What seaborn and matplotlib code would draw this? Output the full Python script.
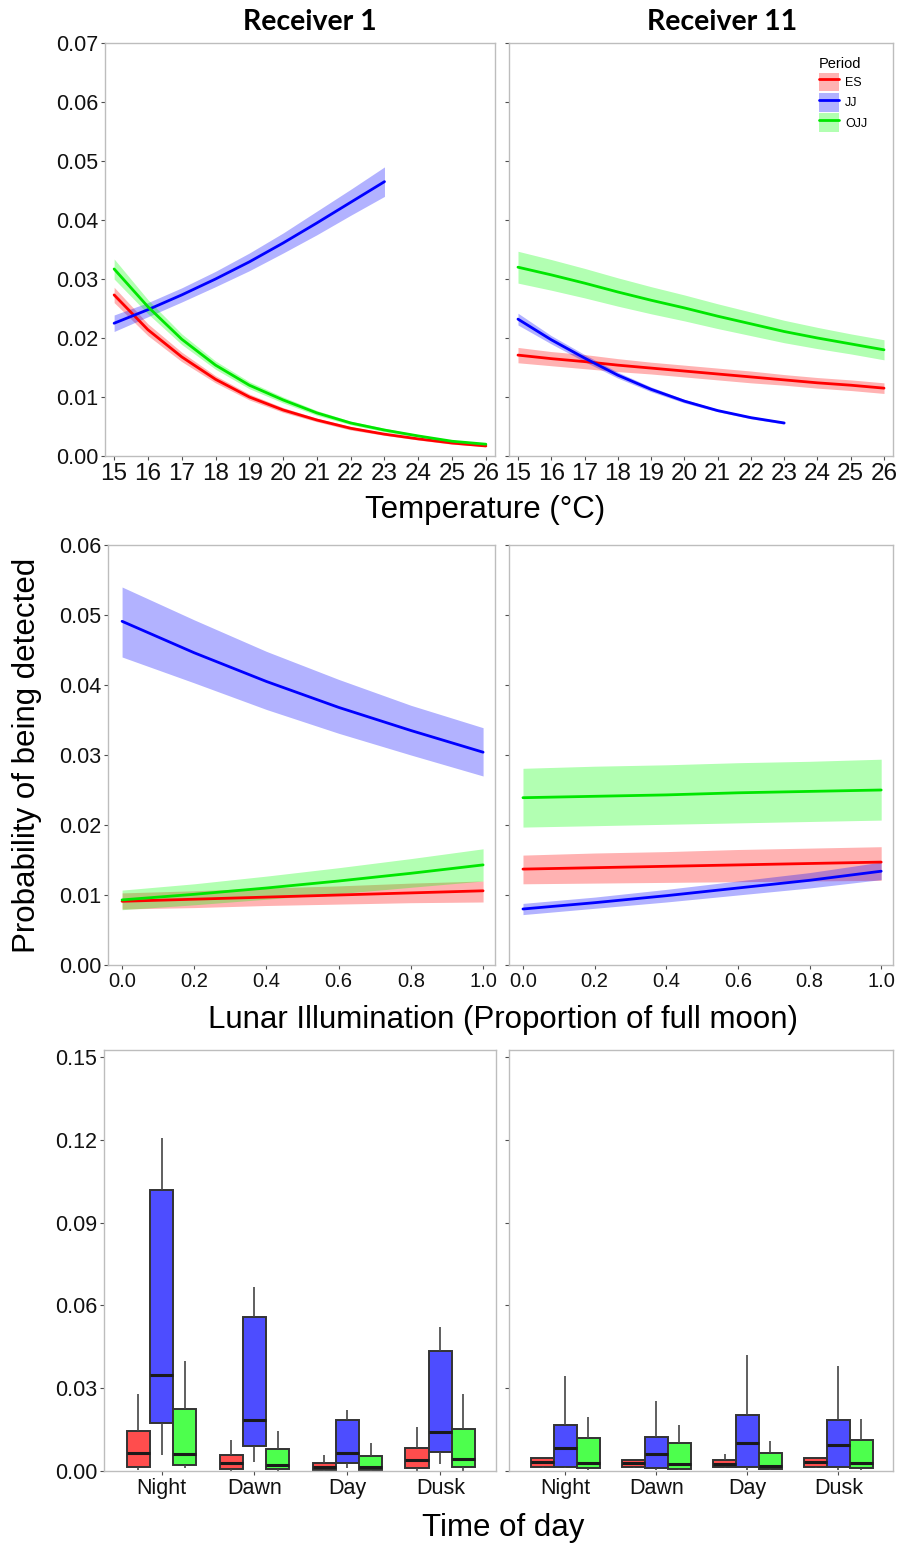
import pandas as pd
import seaborn as sns
import matplotlib.pyplot as plt
import numpy as np
from matplotlib.patches import Patch
from matplotlib.lines import Line2D

# Data
periods = ['ES', 'JJ', 'OJJ']
temp = [15, 16, 17, 18, 19, 20, 21, 22, 23, 24, 25, 26]
temp_jj = [15, 16, 17, 18, 19, 20, 21, 22, 23]
lunar = [0.0, 0.2, 0.4, 0.6, 0.8, 1.0]
tod = ['Night', 'Dawn', 'Day', 'Dusk']

# Receiver 1 - temperature
r1_temp_es = [0.0273, 0.0214, 0.0168, 0.0130, 0.0100, 0.0078, 0.0061, 0.0047, 0.0037, 0.0029, 0.0022, 0.0017]
r1_temp_es_lo = [0.0260, 0.0204, 0.0160, 0.0124, 0.0095, 0.0074, 0.0058, 0.0044, 0.0035, 0.0027, 0.0020, 0.0016]
r1_temp_es_hi = [0.0286, 0.0224, 0.0176, 0.0136, 0.0105, 0.0082, 0.0064, 0.0050, 0.0039, 0.0031, 0.0024, 0.0018]
r1_temp_jj = [0.0225, 0.0248, 0.0273, 0.0300, 0.0329, 0.0361, 0.0395, 0.0430, 0.0465]
r1_temp_jj_lo = [0.0211, 0.0236, 0.0261, 0.0287, 0.0314, 0.0344, 0.0375, 0.0408, 0.0440]
r1_temp_jj_hi = [0.0239, 0.0260, 0.0285, 0.0313, 0.0344, 0.0378, 0.0415, 0.0452, 0.0490]
r1_temp_ojj = [0.0317, 0.0253, 0.0198, 0.0154, 0.0120, 0.0095, 0.0073, 0.0056, 0.0044, 0.0034, 0.0025, 0.0020]
r1_temp_ojj_lo = [0.0300, 0.0241, 0.0189, 0.0147, 0.0114, 0.0090, 0.0069, 0.0053, 0.0041, 0.0032, 0.0023, 0.0018]
r1_temp_ojj_hi = [0.0334, 0.0265, 0.0207, 0.0161, 0.0126, 0.0100, 0.0077, 0.0059, 0.0047, 0.0036, 0.0027, 0.0022]

# Receiver 11 - temperature
r11_temp_es = [0.0171, 0.0165, 0.0160, 0.0154, 0.0149, 0.0144, 0.0139, 0.0134, 0.0129, 0.0124, 0.0120, 0.0115]
r11_temp_es_lo = [0.0158, 0.0153, 0.0148, 0.0143, 0.0139, 0.0134, 0.0129, 0.0124, 0.0120, 0.0115, 0.0111, 0.0106]
r11_temp_es_hi = [0.0184, 0.0177, 0.0172, 0.0165, 0.0159, 0.0154, 0.0149, 0.0144, 0.0138, 0.0133, 0.0129, 0.0124]
r11_temp_jj = [0.0232, 0.0197, 0.0166, 0.0137, 0.0113, 0.0093, 0.0077, 0.0065, 0.0056]
r11_temp_jj_lo = [0.0222, 0.0190, 0.0160, 0.0132, 0.0109, 0.0090, 0.0075, 0.0063, 0.0054]
r11_temp_jj_hi = [0.0242, 0.0204, 0.0172, 0.0142, 0.0117, 0.0096, 0.0079, 0.0067, 0.0058]
r11_temp_ojj = [0.0320, 0.0307, 0.0293, 0.0278, 0.0264, 0.0251, 0.0237, 0.0224, 0.0211, 0.0200, 0.0190, 0.0180]
r11_temp_ojj_lo = [0.0293, 0.0281, 0.0268, 0.0254, 0.0241, 0.0229, 0.0216, 0.0204, 0.0192, 0.0182, 0.0173, 0.0163]
r11_temp_ojj_hi = [0.0347, 0.0333, 0.0318, 0.0302, 0.0287, 0.0273, 0.0258, 0.0244, 0.0230, 0.0218, 0.0207, 0.0197]

# Receiver 1 - lunar illumination
r1_lun_es = [0.0091, 0.0094, 0.0097, 0.0100, 0.0103, 0.0106]
r1_lun_es_lo = [0.0080, 0.0082, 0.0085, 0.0087, 0.0089, 0.0090]
r1_lun_es_hi = [0.0103, 0.0106, 0.0110, 0.0113, 0.0117, 0.0120]
r1_lun_jj = [0.0491, 0.0446, 0.0405, 0.0368, 0.0335, 0.0304]
r1_lun_jj_lo = [0.0440, 0.0403, 0.0365, 0.0331, 0.0300, 0.0270]
r1_lun_jj_hi = [0.0540, 0.0493, 0.0448, 0.0408, 0.0371, 0.0339]
r1_lun_ojj = [0.0093, 0.0101, 0.0110, 0.0120, 0.0131, 0.0143]
r1_lun_ojj_lo = [0.0079, 0.0086, 0.0094, 0.0102, 0.0111, 0.0120]
r1_lun_ojj_hi = [0.0107, 0.0116, 0.0127, 0.0139, 0.0152, 0.0166]

# Receiver 11 - lunar illumination
r11_lun_es = [0.0137, 0.0139, 0.0141, 0.0143, 0.0145, 0.0147]
r11_lun_es_lo = [0.0116, 0.0117, 0.0118, 0.0119, 0.0120, 0.0121]
r11_lun_es_hi = [0.0157, 0.0160, 0.0162, 0.0165, 0.0167, 0.0169]
r11_lun_jj = [0.0080, 0.0089, 0.0099, 0.0110, 0.0121, 0.0134]
r11_lun_jj_lo = [0.0072, 0.0081, 0.0090, 0.0100, 0.0110, 0.0122]
r11_lun_jj_hi = [0.0088, 0.0097, 0.0108, 0.0120, 0.0132, 0.0147]
r11_lun_ojj = [0.0239, 0.0241, 0.0243, 0.0246, 0.0248, 0.0250]
r11_lun_ojj_lo = [0.0197, 0.0199, 0.0201, 0.0203, 0.0205, 0.0207]
r11_lun_ojj_hi = [0.0281, 0.0284, 0.0286, 0.0289, 0.0291, 0.0294]

# Boxplots: [lower whisker, Q1, median, Q3, upper whisker] per time of day
r1_box_es = [[0.0002, 0.0015, 0.0065, 0.0145, 0.0279], [0.0, 0.0007, 0.0029, 0.0058, 0.0112],
             [0.0, 0.0004, 0.0014, 0.0029, 0.0058], [0.0, 0.0011, 0.0040, 0.0083, 0.0160]]
r1_box_jj = [[0.0058, 0.0174, 0.0348, 0.1018, 0.1207], [0.0033, 0.0091, 0.0185, 0.0558, 0.0667],
             [0.0011, 0.0029, 0.0065, 0.0185, 0.0221], [0.0025, 0.0069, 0.0141, 0.0435, 0.0522]]
r1_box_ojj = [[0.0010, 0.0022, 0.0062, 0.0225, 0.0399], [0.0, 0.0007, 0.0022, 0.0080, 0.0145],
              [0.0, 0.0004, 0.0014, 0.0054, 0.0101], [0.0, 0.0014, 0.0043, 0.0152, 0.0279]]
r11_box_es = [[0.0012, 0.0014, 0.0033, 0.0047, 0.0047], [0.0012, 0.0014, 0.0029, 0.0040, 0.0040],
              [0.0010, 0.0014, 0.0025, 0.0040, 0.0062], [0.0012, 0.0014, 0.0033, 0.0047, 0.0047]]
r11_box_jj = [[0.0010, 0.0014, 0.0083, 0.0167, 0.0344], [0.0005, 0.0011, 0.0062, 0.0123, 0.0254],
              [0.0005, 0.0014, 0.0101, 0.0203, 0.0420], [0.0005, 0.0014, 0.0094, 0.0185, 0.0380]]
r11_box_ojj = [[0.0005, 0.0011, 0.0029, 0.0120, 0.0196], [0.0004, 0.0007, 0.0025, 0.0101, 0.0167],
               [0.0004, 0.0007, 0.0018, 0.0065, 0.0109], [0.0005, 0.0011, 0.0029, 0.0112, 0.0188]]

# Styles
lineCol = {'ES': '#FF0000', 'JJ': '#0000FF', 'OJJ': '#00E600'}
bandCol = {'ES': '#FF0000', 'JJ': '#0000FF', 'OJJ': '#00FF00'}
boxCol = {'ES': '#FF4D4D', 'JJ': '#4D4DFF', 'OJJ': '#4DFF4D'}
bandAlpha = 0.3
lw = 2.0
frameCol = '#BDBDBD'
tickCol = '#4D4D4D'
ytickSize = 15.5
labSize = 22.5
W, H = 904, 1544

sns.set_style('white')
plt.rcParams['font.family'] = ['Liberation Sans', 'DejaVu Sans']
plt.rcParams['text.color'] = 'black'

fig = plt.figure(figsize=(W / 100, H / 100), dpi=100)


def add_ax(x0, y0, w, h):
    # pixel box (top-left origin) -> figure fraction
    return fig.add_axes([x0 / W, 1 - (y0 + h) / H, w / W, h / H])


def style_ax(ax, show_ylabels, xsize, ysize):
    for s in ax.spines.values():
        s.set_color(frameCol)
        s.set_linewidth(1.0)
        s.set_visible(True)
    ax.tick_params(axis='both', direction='out', length=3, width=0.8, color=tickCol,
                   labelcolor='#111111', pad=2, bottom=True, left=True)
    ax.tick_params(axis='x', labelsize=xsize)
    ax.tick_params(axis='y', labelsize=ysize, labelleft=show_ylabels)
    ax.set_xlabel('')
    ax.set_ylabel('')


def curves(ax, x_all, x_jj, series):
    rows = []
    for p in periods:
        fit, lo, hi = series[p]
        xs = x_jj if p == 'JJ' else x_all
        ax.fill_between(xs, lo, hi, color=bandCol[p], alpha=bandAlpha, lw=0, zorder=1)
        for xv, fv in zip(xs, fit):
            rows.append({'x': xv, 'fit': fv, 'period': p})
    df = pd.DataFrame(rows)
    sns.lineplot(data=df, x='x', y='fit', hue='period', hue_order=periods, palette=lineCol,
                 lw=lw, legend=False, ax=ax, zorder=3)


def boxes(ax, box_es, box_jj, box_ojj):
    rows = []
    for p, vals in zip(periods, [box_es, box_jj, box_ojj]):
        for t, five in zip(tod, vals):
            for v in five:
                rows.append({'tod': t, 'period': p, 'value': v})
    df = pd.DataFrame(rows)
    sns.boxplot(data=df, x='tod', y='value', hue='period', order=tod, hue_order=periods,
                palette=boxCol, saturation=1, whis=(0, 100), width=0.75, gap=0,
                linecolor='#333333', linewidth=1.4, legend=False, ax=ax,
                medianprops={'color': '#1A1A1A', 'linewidth': 2.2},
                whiskerprops={'color': '#444444', 'linewidth': 1.2},
                capprops={'linewidth': 0})


# Row 1: temperature
ax1 = add_ax(105, 43, 390, 413)
curves(ax1, temp, temp_jj, {'ES': (r1_temp_es, r1_temp_es_lo, r1_temp_es_hi),
                            'JJ': (r1_temp_jj, r1_temp_jj_lo, r1_temp_jj_hi),
                            'OJJ': (r1_temp_ojj, r1_temp_ojj_lo, r1_temp_ojj_hi)})
ax2 = add_ax(509, 43, 384, 413)
curves(ax2, temp, temp_jj, {'ES': (r11_temp_es, r11_temp_es_lo, r11_temp_es_hi),
                            'JJ': (r11_temp_jj, r11_temp_jj_lo, r11_temp_jj_hi),
                            'OJJ': (r11_temp_ojj, r11_temp_ojj_lo, r11_temp_ojj_hi)})
for ax, lab in [(ax1, True), (ax2, False)]:
    ax.set_xlim(14.73, 26.27)
    ax.set_ylim(0, 0.07)
    ax.set_xticks(temp)
    ax.set_yticks(np.arange(0, 0.071, 0.01))
    ax.yaxis.set_major_formatter(plt.FormatStrFormatter('%.2f'))
    style_ax(ax, lab, 17.5, ytickSize)

# Row 2: lunar illumination
ax3 = add_ax(108, 545, 387, 420)
curves(ax3, lunar, lunar, {'ES': (r1_lun_es, r1_lun_es_lo, r1_lun_es_hi),
                           'JJ': (r1_lun_jj, r1_lun_jj_lo, r1_lun_jj_hi),
                           'OJJ': (r1_lun_ojj, r1_lun_ojj_lo, r1_lun_ojj_hi)})
ax4 = add_ax(509, 545, 384, 420)
curves(ax4, lunar, lunar, {'ES': (r11_lun_es, r11_lun_es_lo, r11_lun_es_hi),
                           'JJ': (r11_lun_jj, r11_lun_jj_lo, r11_lun_jj_hi),
                           'OJJ': (r11_lun_ojj, r11_lun_ojj_lo, r11_lun_ojj_hi)})
for ax, lab in [(ax3, True), (ax4, False)]:
    ax.set_xlim(-0.039, 1.033)
    ax.set_ylim(0, 0.06)
    ax.set_xticks(lunar)
    ax.xaxis.set_major_formatter(plt.FormatStrFormatter('%.1f'))
    ax.set_yticks(np.arange(0, 0.061, 0.01))
    ax.yaxis.set_major_formatter(plt.FormatStrFormatter('%.2f'))
    style_ax(ax, lab, 14.5, ytickSize)

# Row 3: time of day
ax5 = add_ax(104, 1050, 392, 421)
boxes(ax5, r1_box_es, r1_box_jj, r1_box_ojj)
ax6 = add_ax(509, 1050, 384, 421)
boxes(ax6, r11_box_es, r11_box_jj, r11_box_ojj)
for ax, lab in [(ax5, True), (ax6, False)]:
    ax.set_xlim(-0.62, 3.6)
    ax.set_ylim(0, 0.1525)
    ax.set_yticks(np.arange(0, 0.151, 0.03))
    ax.yaxis.set_major_formatter(plt.FormatStrFormatter('%.2f'))
    style_ax(ax, lab, 15.5, ytickSize)

# Legend (inside Receiver 11 temperature panel)
handles = [(Patch(facecolor=bandCol[p], alpha=bandAlpha, edgecolor='none'),
            Line2D([], [], color=lineCol[p], lw=lw)) for p in periods]
leg = ax2.legend(handles, periods, title='Period', loc='upper left',
                 bbox_to_anchor=(810 / W, 1 - 48 / H), bbox_transform=fig.transFigure,
                 frameon=False, fontsize=9, title_fontsize=10.5, handlelength=1.6,
                 handleheight=1.9, labelspacing=0.15, handletextpad=0.5, borderpad=0.2)
leg._legend_box.align = 'left'

# Titles and axis labels
fig.text(310 / W, 1 - 22 / H, 'Receiver 1', ha='center', va='center', fontsize=20.5,
         fontweight='bold', family=['Lato', 'DejaVu Sans'])
fig.text(722 / W, 1 - 22 / H, 'Receiver 11', ha='center', va='center', fontsize=20.5,
         fontweight='bold', family=['Lato', 'DejaVu Sans'])
fig.text(485 / W, 1 - 510 / H, 'Temperature (°C)', ha='center', va='center', fontsize=labSize)
fig.text(503 / W, 1 - 1020 / H, 'Lunar Illumination (Proportion of full moon)', ha='center',
         va='center', fontsize=labSize)
fig.text(503 / W, 1 - 1528 / H, 'Time of day', ha='center', va='center', fontsize=labSize)
fig.text(27 / W, 1 - 755 / H, 'Probability of being detected', ha='center', va='center',
         rotation=90, fontsize=labSize)

fig.savefig('out.png', dpi=100)
